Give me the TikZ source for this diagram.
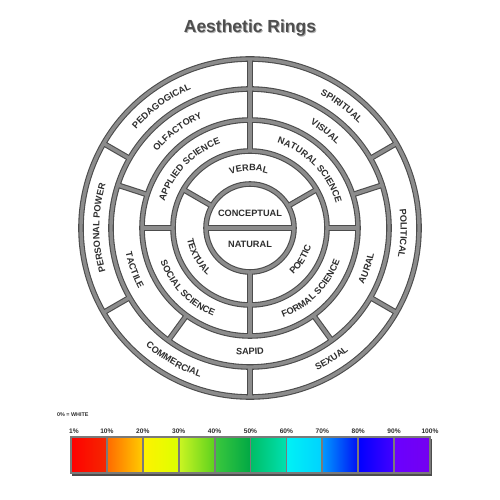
\documentclass[tikz,border=0pt]{standalone}
\usepackage{fontspec}
\setmainfont{Liberation Sans}
\usetikzlibrary{decorations.text}
\definecolor{ringdark}{HTML}{4C4C4C}
\definecolor{ringmid}{HTML}{8C8C8C}
\definecolor{labelc}{HTML}{2E2E2E}
\definecolor{titlec}{HTML}{4E4E4E}
\definecolor{frameg}{HTML}{7A7A7A}
\definecolor{cAl}{HTML}{FF0000}\definecolor{cAr}{HTML}{F52800}
\definecolor{cBl}{HTML}{FF6A00}\definecolor{cBr}{HTML}{FFCC00}
\definecolor{cCl}{HTML}{FFF200}\definecolor{cCr}{HTML}{DDFF00}
\definecolor{cDl}{HTML}{CCF522}\definecolor{cDr}{HTML}{5CD11E}
\definecolor{cEl}{HTML}{3CC83C}\definecolor{cEr}{HTML}{00A845}
\definecolor{cFl}{HTML}{00BE66}\definecolor{cFr}{HTML}{00E0B0}
\definecolor{cGl}{HTML}{00F2F5}\definecolor{cGr}{HTML}{00D2FF}
\definecolor{cHl}{HTML}{0099FF}\definecolor{cHr}{HTML}{0010F5}
\definecolor{cIl}{HTML}{0000FF}\definecolor{cIr}{HTML}{4400FF}
\definecolor{cJl}{HTML}{6A00FF}\definecolor{cJr}{HTML}{7400F0}
\newcommand\lblfont{\fontsize{9.2}{10}\selectfont\bfseries}
\newcommand\ringgeom[1]{%
  \foreach \rr in {44,77,108,139,169} \draw[#1] (0,0) circle[radius=\rr];
  \draw[#1] (180:44) -- (0:44);
  \foreach \aa in {150,30} \draw[#1] (\aa:44) -- (\aa:77);
  \draw[#1] (270:44) -- (270:108);
  \draw[#1] (90:77) -- (90:169);
  \foreach \aa in {180,0} \draw[#1] (\aa:77) -- (\aa:108);
  \foreach \aa in {162,234,306,18} \draw[#1] (\aa:108) -- (\aa:139);
  \foreach \aa in {150,210,330,30} \draw[#1] (\aa:139) -- (\aa:169);
  \draw[#1] (270:139) -- (270:169);
}
\newcommand\toplab[3]{%
  \path[decorate,decoration={text along path,text align=center,text color=labelc,text={|\lblfont|#3}}]
    ({#1+60}:{#2-3.3}) arc[start angle={#1+60},end angle={#1-60},radius={#2-3.3}];}
\newcommand\botlab[3]{%
  \path[decorate,decoration={text along path,text align=center,text color=labelc,text={|\lblfont|#3}}]
    ({#1-60}:{#2+3.3}) arc[start angle={#1-60},end angle={#1+60},radius={#2+3.3}];}
\tikzset{
  ringout/.style={draw=ringdark,line width=5.6pt},
  ringin/.style={draw=ringmid,line width=3.4pt},
  legtext/.style={font=\fontsize{6.6}{7}\selectfont\bfseries,text=labelc,inner sep=0pt},
  cellbox/.style={draw=frameg,line width=1.8pt}
}
\begin{document}
\begin{tikzpicture}[x=1pt,y=1pt]
\useasboundingbox (-250,228) rectangle (250,-272);
\fill[white] (-250,228) rectangle (250,-272);
% title
\node[font=\fontsize{17.5}{18}\selectfont\bfseries,text=black!30] at (0.9,199.1) {Aesthetic Rings};
\node (title)[font=\fontsize{17.5}{18}\selectfont\bfseries,text=titlec] at (0,200) {Aesthetic Rings};
% rings
\ringgeom{ringout}
\ringgeom{ringin}
% centre
\node (conc)[font=\lblfont,text=labelc] at (0,15) {CONCEPTUAL};
\node (nat)[font=\lblfont,text=labelc] at (0,-16) {NATURAL};
% band 2
\toplab{91}{60.5}{VERBAL}
\botlab{209}{60.5}{TEXTUAL}
\botlab{328}{60.5}{POETIC}
% band 3
\toplab{136}{92.5}{APPLIED SCIENCE}
\toplab{44}{92.5}{NATURAL SCIENCE}
\botlab{224}{92.5}{SOCIAL SCIENCE}
\botlab{315}{92.5}{FORMAL SCIENCE}
% band 4
\toplab{127}{123.5}{OLFACTORY}
\toplab{52}{123.5}{VISUAL}
\botlab{200}{123.5}{TACTILE}
\botlab{270}{123.5}{SAPID}
\botlab{341}{123.5}{AURAL}
% band 5
\toplab{126}{154}{PEDAGOGICAL}
\toplab{53}{154}{SPIRITUAL}
\toplab{180}{154}{PERSONAL POWER}
\toplab{358}{154}{POLITICAL}
\botlab{240}{154}{COMMERCIAL}
\botlab{302}{154}{SEXUAL}
% legend
\node (zero)[font=\fontsize{5.4}{6}\selectfont\bfseries,text=labelc,anchor=west,inner sep=0pt] at (-193,-187) {0\% = WHITE};
\fill[ringdark] (-177.5,-211) rectangle (181.5,-247.5);
\foreach \i/\cc in {0/A,1/B,2/C,3/D,4/E,5/F,6/G,7/H,8/I,9/J}{
  \shade[left color=c\cc l,right color=c\cc r] ({-179+35.9*\i},-209) rectangle ({-179+35.9*(\i+1)},-245);
}
\foreach \i in {1,...,9} \draw[frameg,line width=1.8pt] ({-179+35.9*\i},-209) -- ({-179+35.9*\i},-245);
\draw[cellbox] (-179,-209) rectangle (180,-245);
\node (p1)[legtext] at (-176,-203) {1\%};
\foreach \i/\t in {1/10,2/20,3/30,4/40,5/50,6/60,7/70,8/80,9/90,10/100}{
  \node (p\t)[legtext] at ({-179+35.9*\i},-203) {\t\%};
}
\end{tikzpicture}
\end{document}
